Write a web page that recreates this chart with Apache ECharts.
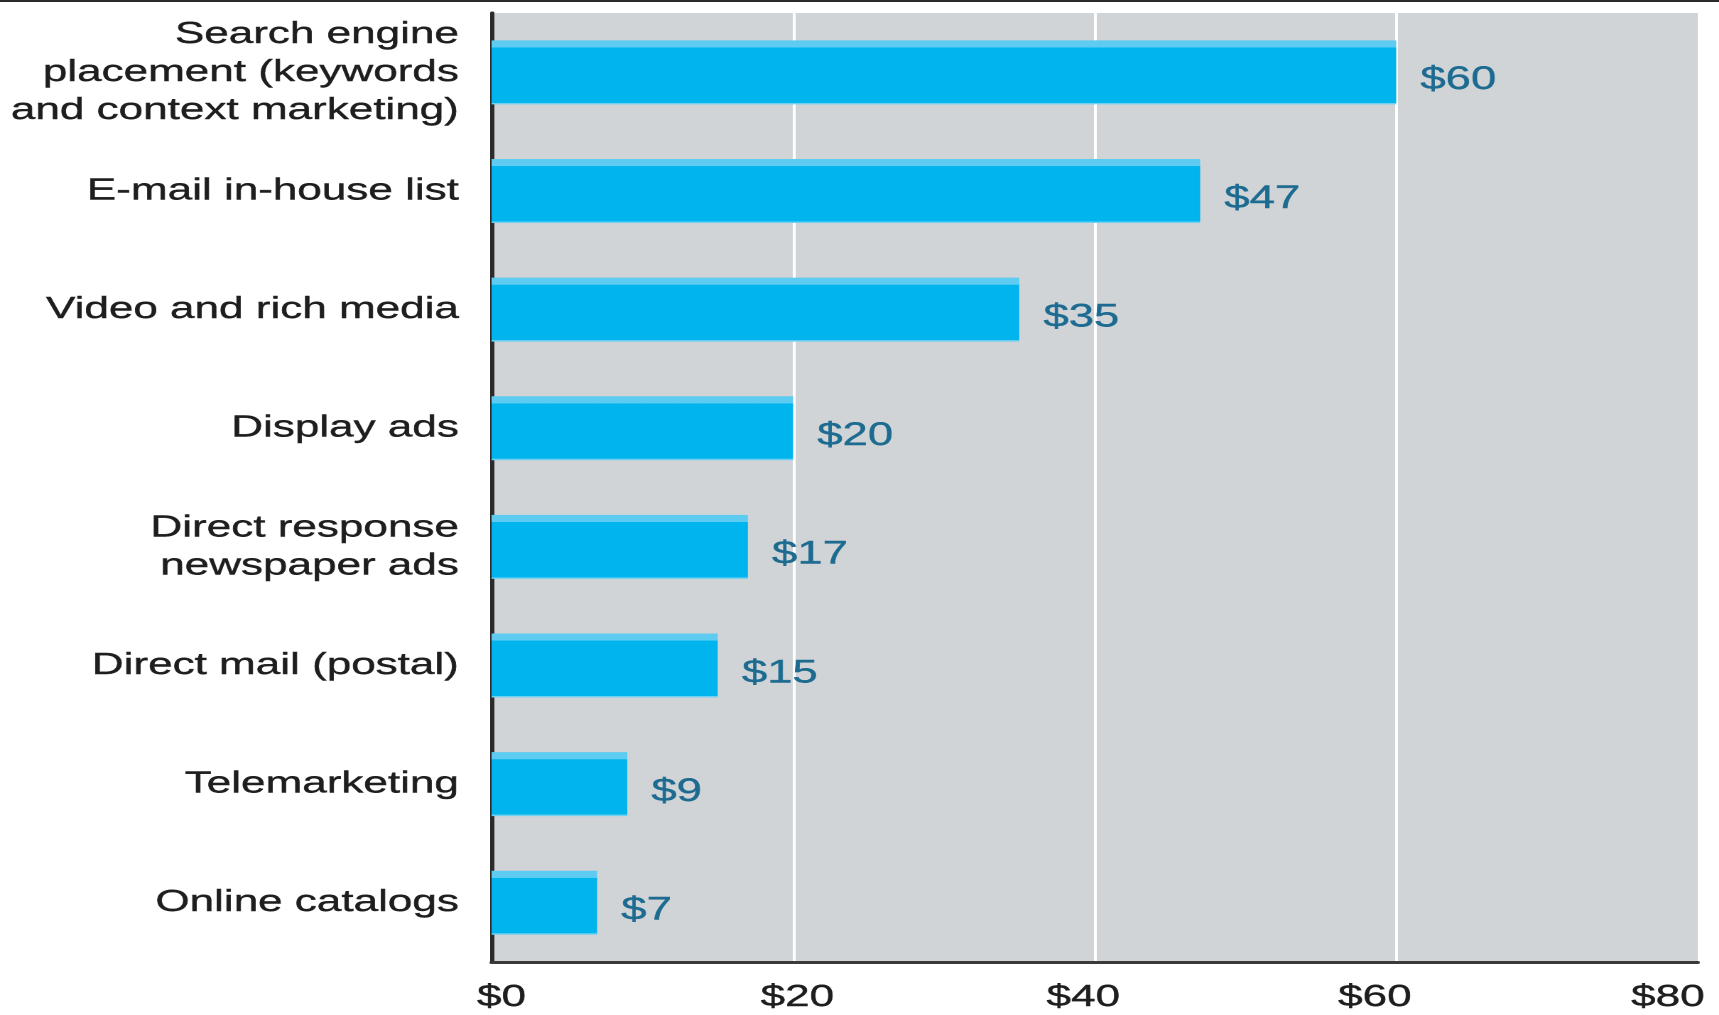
<!DOCTYPE html>
<html>
<head>
<meta charset="utf-8">
<title>Cost per lead by channel</title>
<script src="https://cdn.jsdelivr.net/npm/echarts@6/dist/echarts.min.js"></script>
<style>
  html, body { margin: 0; padding: 0; background: #ffffff; overflow: hidden; }
  #frame {
    width: 1719px; height: 1015px; position: relative; overflow: hidden;
    border-top: 2px solid #2a2a2a; box-sizing: border-box;
  }
  /* the artwork is set in a wide, horizontally stretched style */
  #chart {
    width: 1210px; height: 1013px;
    transform: scaleX(1.4207); transform-origin: 0 0;
  }
</style>
</head>
<body>
<div id="frame"><div id="chart"></div></div>
<script>
// Channels, top to bottom
const channels = [
  'Search engine\nplacement (keywords\nand context marketing)',
  'E-mail in-house list',
  'Video and rich media',
  'Display ads',
  'Direct response\nnewspaper ads',
  'Direct mail (postal)',
  'Telemarketing',
  'Online catalogs'
];

// Spend per channel, in dollars
const spend = [60, 47, 35, 20, 17, 15, 9, 7];

// Value axis range and step
const axisMin = 0;
const axisMax = 80;
const axisStep = 20;

const FONT = '"Liberation Sans", Arial, Helvetica, sans-serif';

// small per-label nudges so the dollar ticks sit where the artwork sets them
const tickNudge = [
  [0, 0, 0, 14],
  [0, 0, 0, 6],
  [0, 16, 0, 0],
  [0, 30, 0, 0],
  [0, 42, 0, 0]
];
const tickRich = {};
tickNudge.forEach((pad, i) => {
  tickRich['t' + i] = {
    padding: pad,
    color: '#1e1e1e',
    fontFamily: FONT,
    fontSize: 31,
    textBorderColor: '#1e1e1e',
    textBorderWidth: 0.4
  };
});

const chart = echarts.init(document.getElementById('chart'), null, {
  renderer: 'canvas',
  devicePixelRatio: 2
});

const barFill = new echarts.graphic.LinearGradient(0, 0, 0, 1, [
  { offset: 0, color: '#5ecbf1' },
  { offset: 0.11, color: '#5ecbf1' },
  { offset: 0.115, color: '#00b5ee' },
  { offset: 0.975, color: '#00b5ee' },
  { offset: 0.98, color: '#6fd0f2' },
  { offset: 1, color: '#6fd0f2' }
]);

chart.setOption({
  animation: false,
  backgroundColor: '#ffffff',
  grid: {
    left: 346,
    right: 15,
    top: 11,
    bottom: 53,
    containLabel: false,
    outerBoundsMode: 'none',
    show: true,
    backgroundColor: '#d1d4d7',
    borderWidth: 0
  },
  xAxis: {
    type: 'value',
    min: axisMin,
    max: axisMax,
    interval: axisStep,
    axisLine: { show: true, onZero: false, lineStyle: { color: '#3a3a3a', width: 3 } },
    axisTick: { show: false },
    splitLine: {
      show: true,
      showMinLine: false,
      showMaxLine: false,
      lineStyle: { color: '#ffffff', width: 2 }
    },
    axisLabel: {
      color: '#1e1e1e',
      fontFamily: FONT,
      fontSize: 31,
      margin: 20,
      formatter: (v, i) => '{t' + i + '|$' + v + '}',
      rich: tickRich
    }
  },
  yAxis: {
    type: 'category',
    data: channels,
    inverse: true,
    axisLine: { show: true, lineStyle: { color: '#2b2b2b', width: 3 } },
    axisTick: { show: false },
    splitLine: { show: false },
    axisLabel: {
      color: '#1e1e1e',
      fontFamily: FONT,
      fontSize: 31,
      lineHeight: 38,
      margin: 23,
      align: 'right',
      textBorderColor: '#1e1e1e',
      textBorderWidth: 0.4
    }
  },
  series: [{
    type: 'bar',
    data: spend,
    barWidth: 64,
    itemStyle: { color: barFill },
    label: {
      show: true,
      position: 'right',
      distance: 17,
      offset: [0, 8],
      color: '#1d6b90',
      fontFamily: FONT,
      fontSize: 32,
      textBorderColor: '#1d6b90',
      textBorderWidth: 0.4,
      formatter: p => '$' + p.value
    },
    z: 3
  }]
});
</script>
</body>
</html>
